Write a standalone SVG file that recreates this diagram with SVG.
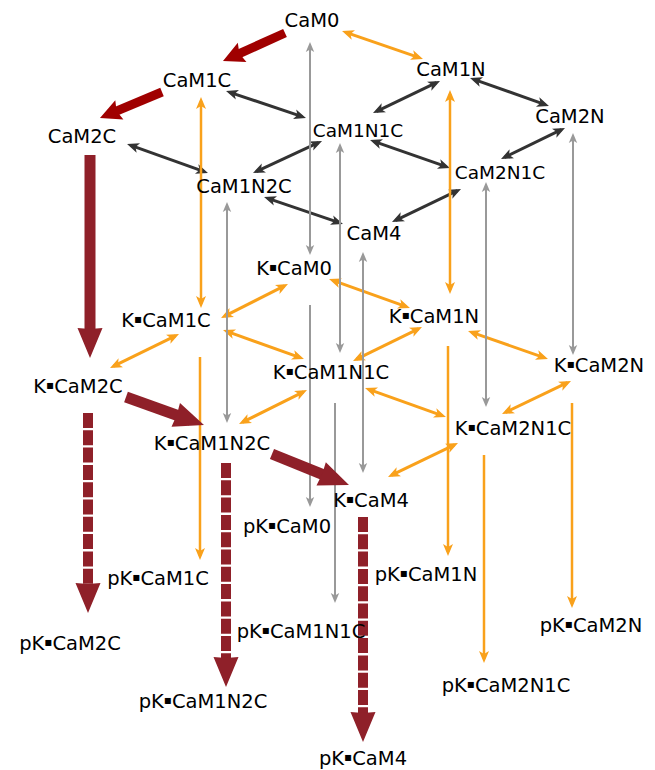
<svg xmlns="http://www.w3.org/2000/svg" width="655" height="770" viewBox="0 0 655 770">
<style>
text{font-family:"DejaVu Sans","Noto Sans",sans-serif;font-size:19.5px;fill:#000;text-anchor:middle}
text.s{font-size:18.5px}
tspan.k{font-size:12px;baseline-shift:4px}
.d{stroke:#333;stroke-width:3;fill:none;marker-start:url(#ad);marker-end:url(#ad)}
.o{stroke:#f9a11b;stroke-width:3;fill:none;marker-start:url(#ao);marker-end:url(#ao)}
.o1{stroke:#f9a11b;stroke-width:2.5;fill:none;marker-end:url(#ao)}
.g{stroke:#999;stroke-width:2;fill:none;marker-start:url(#ag);marker-end:url(#ag)}
.g1{stroke:#999;stroke-width:2;fill:none;marker-end:url(#ag)}
.r{stroke:#a00000;stroke-width:9;fill:none;marker-end:url(#ar)}
.m{stroke:#8f2029;stroke-width:11;fill:none;marker-end:url(#am)}
.md{stroke:#8f2029;stroke-width:10;fill:none;stroke-dasharray:15 2.3;marker-end:url(#am)}
</style>
<defs>
<marker id="ad" markerUnits="userSpaceOnUse" orient="auto-start-reverse" refX="0" refY="0" viewBox="-10 -6 16 12" markerWidth="16" markerHeight="12" overflow="visible"><path d="M4,0 L-8,-5 L-5,0 L-8,5 Z" fill="#333"/></marker>
<marker id="ao" markerUnits="userSpaceOnUse" orient="auto-start-reverse" refX="0" refY="0" viewBox="-10 -6 16 12" markerWidth="16" markerHeight="12" overflow="visible"><path d="M4,0 L-8,-5 L-5,0 L-8,5 Z" fill="#f9a11b"/></marker>
<marker id="ag" markerUnits="userSpaceOnUse" orient="auto-start-reverse" refX="0" refY="0" viewBox="-10 -6 16 12" markerWidth="16" markerHeight="12" overflow="visible"><path d="M3,0 L-7,-4.2 L-4.5,0 L-7,4.2 Z" fill="#999"/></marker>
<marker id="ar" markerUnits="userSpaceOnUse" orient="auto" refX="0" refY="0" viewBox="-14 -12 28 24" markerWidth="28" markerHeight="24" overflow="visible"><path d="M10,0 L-11,-10.5 L-8,0 L-11,10.5 Z" fill="#a00000"/></marker>
<marker id="am" markerUnits="userSpaceOnUse" orient="auto" refX="0" refY="0" viewBox="-18 -14 36 28" markerWidth="36" markerHeight="28" overflow="visible"><path d="M14,0 L-16,-12.5 L-15,0 L-16,12.5 Z" fill="#8f2029"/></marker>
</defs>
<g id="connectors">
<line class="d" x1="229.8" y1="92.3" x2="302.2" y2="116.7"/>
<line class="d" x1="130.8" y1="145.3" x2="204.2" y2="171.7"/>
<line class="d" x1="318.4" y1="142.7" x2="256.6" y2="171.3"/>
<line class="d" x1="267.8" y1="198.3" x2="339.2" y2="222.7"/>
<line class="d" x1="436.4" y1="82.7" x2="376.6" y2="111.3"/>
<line class="d" x1="473.8" y1="79.3" x2="545.2" y2="104.7"/>
<line class="d" x1="373.8" y1="141.3" x2="446.2" y2="166.7"/>
<line class="d" x1="561.4" y1="129.7" x2="504.6" y2="157.3"/>
<line class="d" x1="457.4" y1="190.7" x2="395.6" y2="220.3"/>
<line class="o" x1="345.8" y1="32.3" x2="419.2" y2="57.7"/>
<line class="o" x1="201" y1="101" x2="201" y2="304" style="stroke-width:2.5"/>
<line class="o" x1="450" y1="94" x2="450" y2="290" style="stroke-width:2.5"/>
<line class="o" x1="284.4" y1="285.8" x2="224.6" y2="316.2"/>
<line class="o" x1="332.8" y1="280.4" x2="406.2" y2="306.6"/>
<line class="o" x1="175.4" y1="335.8" x2="113.6" y2="366.2"/>
<line class="o" x1="226.8" y1="331.4" x2="300.2" y2="357.6"/>
<line class="o" x1="418.4" y1="328.8" x2="356.6" y2="359.2"/>
<line class="o" x1="471.8" y1="332.3" x2="544.2" y2="357.7"/>
<line class="o" x1="303.4" y1="391.8" x2="242.6" y2="422.2"/>
<line class="o" x1="368.8" y1="389.4" x2="442.2" y2="415.6"/>
<line class="o" x1="567.4" y1="382.7" x2="505.6" y2="412.3"/>
<line class="o" x1="454.4" y1="444.8" x2="391.6" y2="475.2"/>
<line class="o1" x1="200" y1="357" x2="200" y2="556"/>
<line class="o1" x1="448" y1="346" x2="448" y2="552"/>
<line class="o1" x1="484" y1="455" x2="484" y2="659"/>
<line class="o1" x1="572" y1="403" x2="572" y2="604"/>
<line class="g" x1="310" y1="45" x2="310" y2="252"/>
<line class="g" x1="227" y1="205" x2="227" y2="420"/>
<line class="g" x1="340" y1="146" x2="340" y2="350"/>
<line class="g" x1="363" y1="255" x2="363" y2="470"/>
<line class="g" x1="486" y1="185" x2="486" y2="404"/>
<line class="g" x1="573" y1="136" x2="573" y2="352"/>
<line class="g1" x1="310" y1="305" x2="310" y2="504"/>
<line class="g1" x1="335" y1="403" x2="335" y2="600"/>
<line class="r" x1="285" y1="33" x2="232.1" y2="56.9"/>
<line class="r" x1="162" y1="92" x2="109.2" y2="114.1"/>
<line class="m" x1="90" y1="155" x2="90" y2="344"/>
<line class="m" x1="126" y1="397" x2="190.8" y2="420.3"/>
<line class="m" x1="272" y1="454" x2="336" y2="479.8"/>
<line class="md" x1="88" y1="413" x2="88" y2="599"/>
<line class="md" x1="226" y1="463" x2="226" y2="673"/>
<line class="md" x1="363" y1="517" x2="363" y2="728"/>
</g>
<g id="CaM0"><text x="312" y="27">CaM0</text></g>
<g id="CaM1C"><text x="197" y="87">CaM1C</text></g>
<g id="CaM1N"><text x="451" y="76">CaM1N</text></g>
<g id="CaM2C"><text x="82" y="143">CaM2C</text></g>
<g id="CaM1N1C"><text class="s" x="358" y="137">CaM1N1C</text></g>
<g id="CaM2N"><text x="570" y="123">CaM2N</text></g>
<g id="CaM1N2C"><text x="244" y="193">CaM1N2C</text></g>
<g id="CaM2N1C"><text class="s" x="500" y="179">CaM2N1C</text></g>
<g id="CaM4"><text x="374" y="240">CaM4</text></g>
<g id="K_CaM0"><text x="294" y="275">K<tspan class="k">▪</tspan>CaM0</text></g>
<g id="K_CaM1C"><text x="166" y="327">K<tspan class="k">▪</tspan>CaM1C</text></g>
<g id="K_CaM1N"><text x="434" y="323">K<tspan class="k">▪</tspan>CaM1N</text></g>
<g id="K_CaM2C"><text x="78" y="393">K<tspan class="k">▪</tspan>CaM2C</text></g>
<g id="K_CaM1N1C"><text x="331" y="379">K<tspan class="k">▪</tspan>CaM1N1C</text></g>
<g id="K_CaM2N"><text x="599" y="372">K<tspan class="k">▪</tspan>CaM2N</text></g>
<g id="K_CaM1N2C"><text x="212" y="450">K<tspan class="k">▪</tspan>CaM1N2C</text></g>
<g id="K_CaM2N1C"><text x="513" y="435">K<tspan class="k">▪</tspan>CaM2N1C</text></g>
<g id="K_CaM4"><text x="371" y="507">K<tspan class="k">▪</tspan>CaM4</text></g>
<g id="pK_CaM0"><text x="287" y="533">pK<tspan class="k">▪</tspan>CaM0</text></g>
<g id="pK_CaM1C"><text x="158" y="585">pK<tspan class="k">▪</tspan>CaM1C</text></g>
<g id="pK_CaM2C"><text x="70" y="650">pK<tspan class="k">▪</tspan>CaM2C</text></g>
<g id="pK_CaM1N1C"><text x="301" y="638">pK<tspan class="k">▪</tspan>CaM1N1C</text></g>
<g id="pK_CaM1N2C"><text x="203" y="708">pK<tspan class="k">▪</tspan>CaM1N2C</text></g>
<g id="pK_CaM1N"><text x="426" y="581">pK<tspan class="k">▪</tspan>CaM1N</text></g>
<g id="pK_CaM2N"><text x="591" y="632">pK<tspan class="k">▪</tspan>CaM2N</text></g>
<g id="pK_CaM2N1C"><text x="506" y="692">pK<tspan class="k">▪</tspan>CaM2N1C</text></g>
<g id="pK_CaM4"><text x="363" y="765">pK<tspan class="k">▪</tspan>CaM4</text></g>
</svg>
